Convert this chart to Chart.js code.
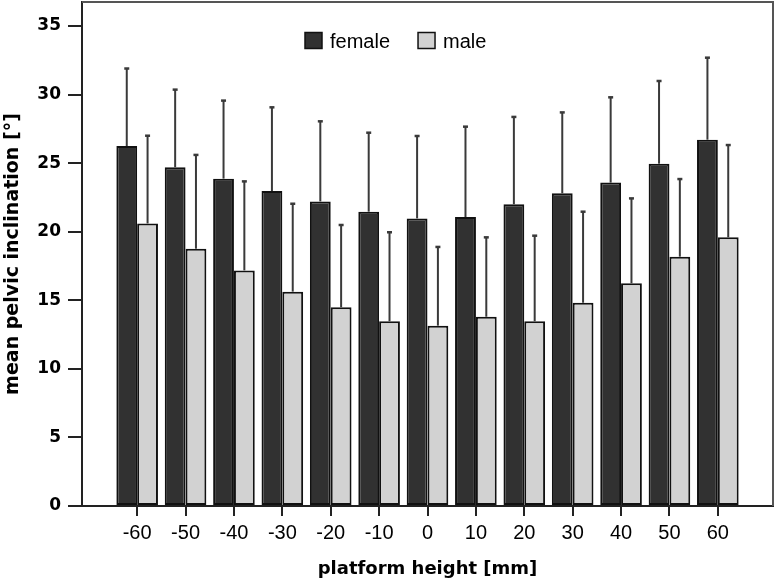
<!DOCTYPE html>
<html lang="en">
<head>
    <meta charset="UTF-8">
    <title>mean pelvic inclination</title>
    <style>
        body {
            margin: 0;
            padding: 0;
            background-color: #fff;
        }
        canvas {
            display: block;
        }
    </style>
    <script src="https://cdn.jsdelivr.net/npm/chart.js"></script>
</head>
<body>
    <canvas id="grafico" width="774" height="581"></canvas>

    <script>
        // platform heights (x axis) and y tick labels
        const alturas = [-60, -50, -40, -30, -20, -10, 0, 10, 20, 30, 40, 50, 60];
        const ticksY = [0, 5, 10, 15, 20, 25, 30, 35];

        // mean values
        const mediaFemale = [26.25, 24.7, 23.87, 22.97, 22.21, 21.46, 20.97, 21.07, 22.0, 22.8, 23.58, 24.96, 26.71];
        const mediaMale = [20.6, 18.76, 17.18, 15.63, 14.49, 13.47, 13.15, 13.8, 13.47, 14.82, 16.24, 18.18, 19.59];

        // standard deviation (upper whisker only)
        const sdFemale = [5.65, 5.66, 5.69, 6.1, 5.84, 5.76, 6.01, 6.59, 6.37, 5.9, 6.22, 6.03, 5.98];
        const sdMale = [6.4, 6.84, 6.49, 6.41, 6.0, 6.49, 5.74, 5.79, 6.24, 6.64, 6.19, 5.66, 6.73];

        const series = ['female', 'male'];
        const colores = ['#313131', '#d2d2d2'];

        const barrasError = {
            id: 'barrasError',
            afterDatasetsDraw(chart) {
                const ctx = chart.ctx;
                const y = chart.scales.y;
                ctx.save();
                ctx.strokeStyle = '#3a3a3a';
                chart.data.datasets.forEach((ds, d) => {
                    const meta = chart.getDatasetMeta(d);
                    meta.data.forEach((bar, i) => {
                        const punto = ds.data[i];
                        const yErr = y.getPixelForValue(punto.y + ds.sd[i]);
                        ctx.lineWidth = 2;
                        ctx.beginPath();
                        ctx.moveTo(bar.x, bar.y);
                        ctx.lineTo(bar.x, yErr);
                        ctx.stroke();
                        ctx.lineWidth = 2.5;
                        ctx.beginPath();
                        ctx.moveTo(bar.x - 2.5, yErr);
                        ctx.lineTo(bar.x + 2.5, yErr);
                        ctx.stroke();
                    });
                });
                ctx.restore();
            }
        };

        const marcoYLeyenda = {
            id: 'marcoYLeyenda',
            afterDraw(chart) {
                const ctx = chart.ctx;
                const a = chart.chartArea;
                ctx.save();
                // frame round the plot
                ctx.strokeStyle = '#555';
                ctx.lineWidth = 2;
                ctx.beginPath();
                ctx.moveTo(a.left, a.top);
                ctx.lineTo(a.right, a.top);
                ctx.lineTo(a.right, a.bottom);
                ctx.stroke();

                // legend inside the plot
                ctx.font = '20px "Liberation Sans", Arial, sans-serif';
                ctx.textBaseline = 'alphabetic';
                let x = 305;
                chart.data.datasets.forEach((ds) => {
                    ctx.fillStyle = ds.backgroundColor;
                    ctx.fillRect(x, 32.5, 17, 16);
                    ctx.strokeStyle = '#111';
                    ctx.lineWidth = 1.5;
                    ctx.strokeRect(x, 32.5, 17, 16);
                    x += 17 + 8;
                    ctx.fillStyle = '#000';
                    ctx.fillText(ds.label, x, 47.5);
                    x += ctx.measureText(ds.label).width + 28;
                });
                ctx.restore();
            }
        };

        const datasets = series.map((nombre, s) => {
            const medias = s === 0 ? mediaFemale : mediaMale;
            return {
                label: nombre,
                data: alturas.map((h, i) => ({ x: h, y: medias[i] })),
                sd: s === 0 ? sdFemale : sdMale,
                backgroundColor: colores[s],
                borderColor: '#111',
                borderWidth: 2,
                borderSkipped: false,
                categoryPercentage: 0.86,
                barPercentage: 1.0
            };
        });

        new Chart(document.getElementById('grafico'), {
            type: 'bar',
            data: { datasets: datasets },
            plugins: [barrasError, marcoYLeyenda],
            options: {
                responsive: false,
                animation: false,
                layout: { padding: { top: 2, right: 1, left: 0, bottom: 0 } },
                plugins: {
                    legend: { display: false },
                    tooltip: { enabled: false }
                },
                scales: {
                    x: {
                        type: 'linear',
                        offset: false,
                        min: -71.4,
                        max: 71.4,
                        afterBuildTicks: (scale) => {
                            scale.ticks = alturas.map(v => ({ value: v }));
                        },
                        afterFit: (scale) => {
                            scale.height = 75;
                            scale.paddingLeft = 0;
                            scale.paddingRight = 0;
                        },
                        grid: {
                            offset: false,
                            drawOnChartArea: false,
                            tickLength: 10,
                            color: '#222',
                            lineWidth: 2
                        },
                        border: { color: '#222', width: 2 },
                        ticks: {
                            padding: 5,
                            color: '#000',
                            font: { family: '"Liberation Sans Narrow", "Arial Narrow", "Liberation Sans", sans-serif', size: 20 },
                            maxRotation: 0,
                            autoSkip: false
                        },
                        title: {
                            display: true,
                            text: 'platform height [mm]',
                            color: '#000',
                            font: { family: '"DejaVu Sans", sans-serif', size: 18, weight: 'bold' },
                            padding: { top: 0, bottom: 1 }
                        }
                    },
                    y: {
                        min: 0,
                        max: 36.75,
                        afterBuildTicks: (scale) => {
                            scale.ticks = ticksY.map(v => ({ value: v }));
                        },
                        afterFit: (scale) => {
                            scale.width = 82;
                            scale.paddingTop = 0;
                            scale.paddingBottom = 0;
                        },
                        grid: {
                            drawOnChartArea: false,
                            tickLength: 14,
                            color: '#222',
                            lineWidth: 2
                        },
                        border: { color: '#222', width: 2 },
                        ticks: {
                            padding: 7,
                            color: '#000',
                            font: { family: '"DejaVu Sans", sans-serif', size: 17, weight: 'bold' }
                        },
                        title: {
                            display: true,
                            text: 'mean pelvic inclination [°]',
                            color: '#000',
                            font: { family: '"DejaVu Sans", sans-serif', size: 19, weight: 'bold' },
                            padding: { top: 2, bottom: 0 }
                        }
                    }
                }
            }
        });
    </script>
</body>
</html>
